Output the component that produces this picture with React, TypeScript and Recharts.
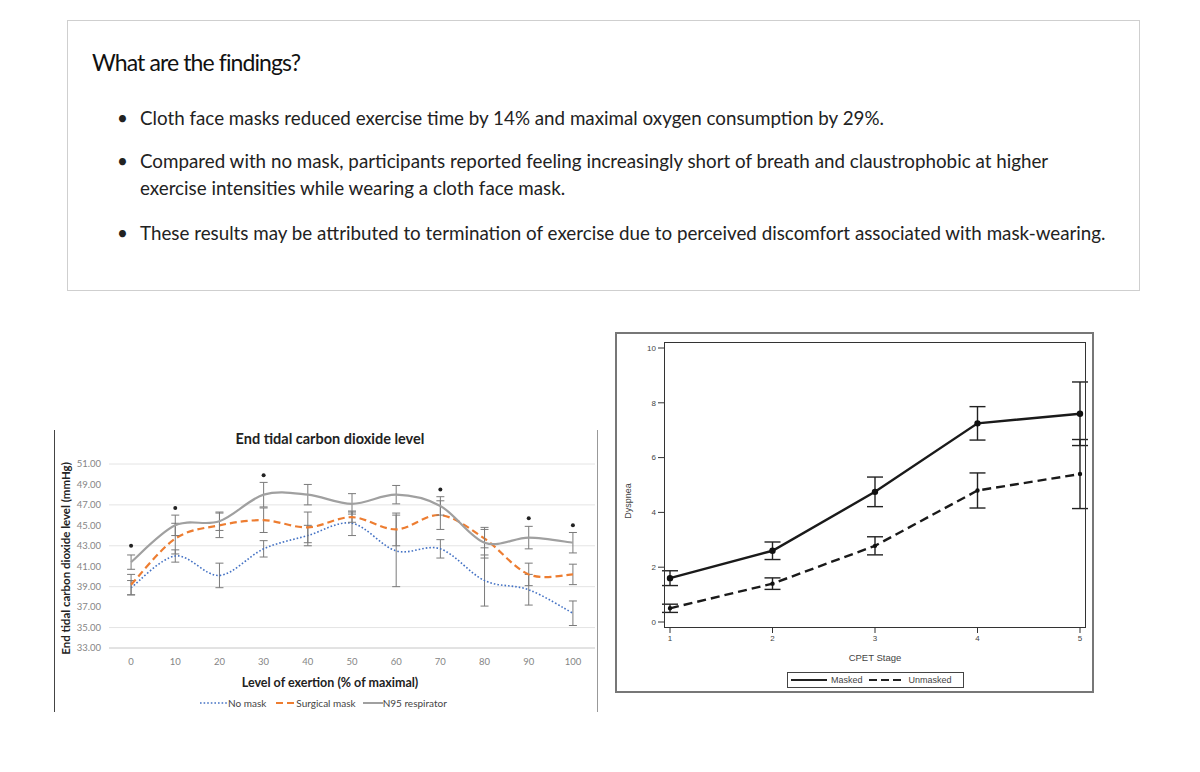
import React from 'react'
import {
  ComposedChart,
  LineChart,
  Line,
  Scatter,
  XAxis,
  YAxis,
  CartesianGrid,
  ErrorBar,
} from 'recharts'

// left chart: end tidal CO2 by exertion level
const exertionLevels = [0, 10, 20, 30, 40, 50, 60, 70, 80, 90, 100]
const noMask = [38.9, 42.0, 40.1, 42.7, 44.0, 45.2, 42.5, 42.7, 39.6, 38.7, 36.4]
const noMaskErr = [0.7, 0.6, 1.2, 0.8, 1.0, 1.2, 3.5, 0.9, 2.5, 1.5, 1.2]
const surgicalMask = [39.2, 43.7, 45.0, 45.5, 44.8, 45.8, 44.6, 46.0, 43.7, 40.2, 40.2]
const surgicalErr = [1.0, 1.5, 1.2, 1.2, 1.5, 0.5, 1.6, 1.4, 0.9, 1.1, 1.0]
const n95 = [41.4, 45.0, 45.4, 48.0, 48.0, 47.1, 48.0, 46.9, 43.3, 43.8, 43.3]
const n95Err = [0.7, 1.0, 0.9, 1.2, 1.0, 1.0, 0.9, 0.9, 1.5, 1.1, 1.0]
const significance = [43.0, 46.7, null, 49.9, null, null, null, 48.5, null, 45.7, 45.0]
const etco2Ticks = [33, 35, 37, 39, 41, 43, 45, 47, 49, 51]
const boundaryTicks = [-5, 5, 15, 25, 35, 45, 55, 65, 75, 85, 95, 105]

// right chart: dyspnea by CPET stage
const cpetStages = [1, 2, 3, 4, 5]
const masked = [1.6, 2.6, 4.75, 7.25, 7.6]
const maskedErr = [0.27, 0.32, 0.54, 0.61, 1.16]
const unmasked = [0.5, 1.4, 2.78, 4.8, 5.4]
const unmaskedErr = [0.15, 0.21, 0.33, 0.64, 1.26]
const dyspneaTicks = [0, 2, 4, 6, 8, 10]

const etco2Data = exertionLevels.map((x, i) => ({
  x,
  noMask: noMask[i],
  noMaskErr: noMaskErr[i],
  surgical: surgicalMask[i],
  surgicalErr: surgicalErr[i],
  n95: n95[i],
  n95Err: n95Err[i],
}))
const sigData = exertionLevels
  .map((x, i) => ({ x, sig: significance[i] }))
  .filter((d) => d.sig != null)

const dyspneaData = cpetStages.map((stage, i) => ({
  stage,
  masked: masked[i],
  maskedErr: maskedErr[i],
  unmasked: unmasked[i],
  unmaskedErr: unmaskedErr[i],
}))

// excel-like smoothing (catmull-rom through the points)
function smoothCurve(context: any) {
  let pts: number[][] = []
  return {
    areaStart() {},
    areaEnd() {},
    lineStart() {
      pts = []
    },
    point(x: number, y: number) {
      pts.push([+x, +y])
    },
    lineEnd() {
      if (!pts.length) return
      context.moveTo(pts[0][0], pts[0][1])
      for (let i = 0; i < pts.length - 1; i++) {
        const p0 = pts[i - 1] || pts[i]
        const p1 = pts[i]
        const p2 = pts[i + 1]
        const p3 = pts[i + 2] || p2
        context.bezierCurveTo(
          p1[0] + (p2[0] - p0[0]) / 6,
          p1[1] + (p2[1] - p0[1]) / 6,
          p2[0] - (p3[0] - p1[0]) / 6,
          p2[1] - (p3[1] - p1[1]) / 6,
          p2[0],
          p2[1]
        )
      }
    },
  }
}

const abs = (left: number, top: number, extra: React.CSSProperties = {}): React.CSSProperties => ({
  position: 'absolute',
  left,
  top,
  ...extra,
})

function FindingsBox() {
  const body: React.CSSProperties = { fontSize: 18.8, lineHeight: '27px', color: '#222', whiteSpace: 'nowrap' }
  const bullet = (top: number) => <div style={abs(117, top, body)}>•</div>
  return (
    <div style={{ fontFamily: 'Lato, sans-serif' }}>
      <div
        style={abs(67, 20, {
          width: 1073,
          height: 271,
          border: '1px solid #cfcfcf',
          boxSizing: 'border-box',
        })}
      />
      <div style={abs(92, 47, { fontSize: 23, lineHeight: '30px', letterSpacing: -0.9, color: '#111' })}>
        What are the findings?
      </div>
      {bullet(103.5)}
      <div style={abs(140, 103.5, body)}>
        Cloth face masks reduced exercise time by 14% and maximal oxygen consumption by 29%.
      </div>
      {bullet(146.5)}
      <div style={abs(140, 146.5, body)}>
        Compared with no mask, participants reported feeling increasingly short of breath and claustrophobic at higher
        <br />
        exercise intensities while wearing a cloth face mask.
      </div>
      {bullet(218.5)}
      <div style={abs(140, 218.5, body)}>
        These results may be attributed to termination of exercise due to perceived discomfort associated with
        mask-wearing.
      </div>
    </div>
  )
}

function Etco2Chart() {
  const tick = { fontSize: 9.5, fill: '#858585', fontFamily: 'Lato, sans-serif' }
  return (
    <div style={{ fontFamily: 'Lato, sans-serif' }}>
      <div style={abs(54, 430, { width: 1, height: 282, background: '#444' })} />
      <div style={abs(597, 430, { width: 1, height: 282, background: '#999' })} />
      <div style={abs(55, 425, {})}>
        <ComposedChart width={545} height={290} data={etco2Data} margin={{ top: 39, right: 5, left: 0, bottom: 47 }}>
          <CartesianGrid vertical={false} stroke="#e4e4e4" />
          <XAxis
            xAxisId="bounds"
            type="number"
            dataKey="x"
            domain={[-5, 105]}
            ticks={boundaryTicks}
            tick={false}
            tickSize={4}
            tickLine={{ stroke: '#d4d4d4' }}
            axisLine={false}
            height={0}
          />
          <XAxis
            type="number"
            dataKey="x"
            domain={[-5, 105]}
            ticks={exertionLevels}
            tickLine={false}
            axisLine={{ stroke: '#d4d4d4' }}
            tick={tick}
            tickMargin={4}
            height={20}
          />
          <YAxis
            domain={[33, 51]}
            ticks={etco2Ticks}
            tickFormatter={(v: number) => v.toFixed(2)}
            axisLine={false}
            tickLine={false}
            tick={tick}
            width={54}
          />
          <Line type={smoothCurve as any} dataKey="noMask" stroke="#4472C4" strokeWidth={1.6} strokeDasharray="1.6 2" dot={false} isAnimationActive={false}>
            <ErrorBar dataKey="noMaskErr" width={4} stroke="#7a7a7a" strokeWidth={1} isAnimationActive={false} />
          </Line>
          <Line type={smoothCurve as any} dataKey="surgical" stroke="#ED7D31" strokeWidth={2.2} strokeDasharray="7 4" dot={false} isAnimationActive={false}>
            <ErrorBar dataKey="surgicalErr" width={4} stroke="#7a7a7a" strokeWidth={1} isAnimationActive={false} />
          </Line>
          <Line type={smoothCurve as any} dataKey="n95" stroke="#A0A0A0" strokeWidth={2.2} dot={false} isAnimationActive={false}>
            <ErrorBar dataKey="n95Err" width={4} stroke="#7a7a7a" strokeWidth={1} isAnimationActive={false} />
          </Line>
          <Scatter
            data={sigData}
            dataKey="sig"
            isAnimationActive={false}
            shape={(p: any) => <circle cx={p.cx} cy={p.cy} r={2} fill="#222" />}
          />
        </ComposedChart>
      </div>
      <div style={abs(220, 430, { width: 220, textAlign: 'center', fontSize: 14.5, fontWeight: 700, color: '#222', whiteSpace: 'nowrap' })}>
        End tidal carbon dioxide level
      </div>
      <div
        style={abs(-35, 552, {
          width: 200,
          textAlign: 'center',
          fontSize: 11.5,
          fontWeight: 700,
          color: '#222',
          whiteSpace: 'nowrap',
          transform: 'rotate(-90deg)',
        })}
      >
        End tidal carbon dioxide level (mmHg)
      </div>
      <div style={abs(230, 675, { width: 200, textAlign: 'center', fontSize: 12.5, fontWeight: 700, color: '#222', whiteSpace: 'nowrap' })}>
        Level of exertion (% of maximal)
      </div>
      <div style={abs(200, 697, { display: 'flex', alignItems: 'center', fontSize: 10, color: '#444', whiteSpace: 'nowrap' })}>
        <svg width={28} height={6}><line x1={0} y1={3} x2={28} y2={3} stroke="#4472C4" strokeWidth={1.6} strokeDasharray="1.6 2" /></svg>
        <span style={{ marginRight: 10 }}>No mask</span>
        <svg width={20} height={6}><line x1={0} y1={3} x2={20} y2={3} stroke="#ED7D31" strokeWidth={2.2} strokeDasharray="7 4" /></svg>
        <span style={{ marginRight: 7 }}>Surgical mask</span>
        <svg width={20} height={6}><line x1={0} y1={3} x2={20} y2={3} stroke="#A0A0A0" strokeWidth={2} /></svg>
        <span>N95 respirator</span>
      </div>
    </div>
  )
}

function DyspneaChart() {
  const tick = { fontSize: 8, fill: '#444', fontFamily: '"Liberation Sans", Arial, sans-serif' }
  return (
    <div style={{ fontFamily: '"Liberation Sans", Arial, sans-serif' }}>
      <div style={abs(615, 332, { width: 479, height: 361, border: '2px solid #777', boxSizing: 'border-box' })}>
        <LineChart width={475} height={357} data={dyspneaData} margin={{ top: 8, right: 6, left: 0, bottom: 43 }}>
          <XAxis
            type="number"
            dataKey="stage"
            domain={[1, 5]}
            ticks={cpetStages}
            padding={{ left: 6, right: 6 }}
            axisLine={false}
            tickLine={{ stroke: '#333' }}
            tickSize={5}
            tickMargin={2}
            tick={tick}
            height={20}
          />
          <YAxis
            domain={[0, 10]}
            ticks={dyspneaTicks}
            padding={{ top: 6, bottom: 6 }}
            axisLine={false}
            tickLine={{ stroke: '#333' }}
            tickSize={6}
            tickMargin={2}
            tick={tick}
            width={47}
          />
          <Line type="linear" dataKey="masked" stroke="#1a1a1a" strokeWidth={2.4} dot={{ r: 2, fill: '#111', stroke: '#111' }} isAnimationActive={false}>
            <ErrorBar dataKey="maskedErr" width={8} stroke="#222" strokeWidth={1.4} isAnimationActive={false} />
          </Line>
          <Line type="linear" dataKey="unmasked" stroke="#1a1a1a" strokeWidth={2.4} strokeDasharray="9 5" dot={{ r: 1, fill: '#111', stroke: '#111' }} isAnimationActive={false}>
            <ErrorBar dataKey="unmaskedErr" width={8} stroke="#222" strokeWidth={1.4} isAnimationActive={false} />
          </Line>
        </LineChart>
      </div>
      <div style={abs(664, 342, { width: 422, height: 286, border: '1.5px solid #333', boxSizing: 'border-box', pointerEvents: 'none' })} />
      <div style={abs(598, 496, { width: 60, textAlign: 'center', fontSize: 9, color: '#444', transform: 'rotate(-90deg)' })}>
        Dyspnea
      </div>
      <div style={abs(825, 652, { width: 100, textAlign: 'center', fontSize: 9.5, color: '#444' })}>CPET Stage</div>
      <div
        style={abs(787, 672, {
          width: 177,
          height: 16,
          border: '1px solid #444',
          boxSizing: 'border-box',
          display: 'flex',
          alignItems: 'center',
          fontSize: 9,
          color: '#444',
          whiteSpace: 'nowrap',
        })}
      >
        <svg width={40} height={6} style={{ marginLeft: 3 }}><line x1={0} y1={3} x2={36} y2={3} stroke="#222" strokeWidth={1.8} /></svg>
        <span style={{ marginRight: 6 }}>Masked</span>
        <svg width={40} height={6}><line x1={0} y1={3} x2={36} y2={3} stroke="#222" strokeWidth={1.8} strokeDasharray="8 4" /></svg>
        <span>Unmasked</span>
      </div>
    </div>
  )
}

export default function App() {
  return (
    <div style={{ position: 'absolute', left: 0, top: 0, width: 1200, height: 772, background: '#fff', overflow: 'hidden' }}>
      <FindingsBox />
      <Etco2Chart />
      <DyspneaChart />
    </div>
  )
}
